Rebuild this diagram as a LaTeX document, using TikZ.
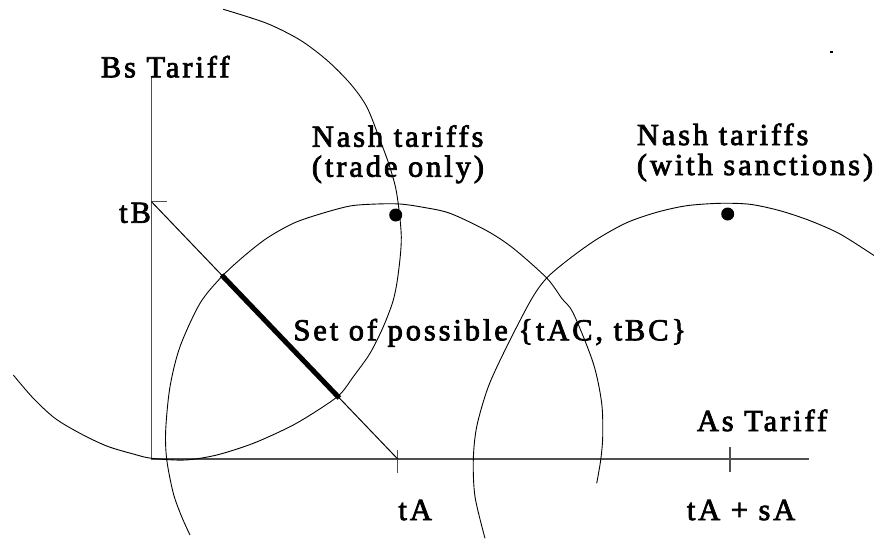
\documentclass[tikz,border=0pt]{standalone}
\usepackage{fontspec}
\setmainfont{Liberation Serif}[LetterSpace=9.5,FakeBold=2.5]
\usetikzlibrary{calc}
\definecolor{axisgray}{RGB}{80,80,80}
\begin{document}
\begin{tikzpicture}[x=1pt,y=-1pt,
  lbl/.style={font=\fontsize{30.5}{30}\selectfont, inner sep=0pt, anchor=base west},
  axisline/.style={draw=axisgray, line width=1.3pt},
  curveline/.style={draw=black, line width=0.9pt, line join=round},
  diag/.style={draw=black, line width=1pt},
  thickseg/.style={draw=black, line width=5pt},
  dotmark/.style={circle, fill=black, inner sep=0pt, minimum size=13pt}]
\useasboundingbox (0,0) rectangle (874,550);

% axis coordinates
\coordinate (O) at (151.5,459);
\coordinate (ytop) at (151.5,76.7);
\coordinate (xend) at (809,459);
\coordinate (tBpt) at (151.5,201.7);
\coordinate (tBtick) at (167,201.7);
\coordinate (tApt) at (397.7,459);
\coordinate (tAtop) at (397.7,450);
\coordinate (tAbot) at (397.7,473);
\coordinate (tsAtop) at (730,447);
\coordinate (tsAbot) at (730,472);

% axes and ticks
\draw[axisline] (ytop) -- (O) -- (xend);
\draw[axisline] (tBpt) -- (tBtick);
\draw[axisline] (tAtop) -- (tAbot);
\draw[axisline] (tsAtop) -- (tsAbot);

% curves
\draw[curveline] plot[smooth] coordinates {(223.3,9.3) (266.7,23.3) (300,40) (326.7,60) (350,83.3) (366.7,106.7) (380,140) (389.5,166) (396.7,193.3) (401.3,236.7) (398.3,273.3) (393.3,300) (383.3,326.7) (370,353.3) (353.3,376.7) (339.3,395) (315,412) (290,426.7) (253.3,443.3) (216.7,455) (185,460) (151.7,458.3) (133.3,454) (106.7,446) (80,433.3) (55,418.3) (33.3,398.3) (13.3,375)};
\draw[curveline] plot[smooth] coordinates {(190,535) (181.7,516.7) (173.3,493.3) (166.7,459.3) (165.7,430) (170,386.7) (180,346.7) (200,303.3) (221.7,276.7) (243.3,256.7) (266.7,238.3) (293.3,223.3) (320,214) (350,206) (376.7,204) (400,204) (423.3,207.3) (450,213.3) (486.7,230.7) (513.3,248.3) (546.7,278) (561.7,298.3) (573.3,313.3) (593.3,363.3) (601.7,403.3) (602.7,436.7) (600.7,460) (596.7,483.3)};
\draw[curveline] plot[smooth] coordinates {(485,538.3) (475,496.7) (473.3,460) (476.7,426.7) (488.3,386.7) (506.7,346.7) (531,300) (546.7,278) (570,258.3) (596.7,239.3) (626.7,222.7) (656.7,212.3) (686.7,205.7) (720,203.3) (750,204.3) (780,210.7) (810,220.7) (840,234) (874,255.5)};

% diagonal and set of possible tariffs
\draw[diag] (tBpt) -- (tApt);
\draw[thickseg] ($(tBpt)!0.285!(tApt)$) -- ($(tBpt)!0.763!(tApt)$);

% Nash points
\node[dotmark] (nash1) at (395.7,215) {};
\node[dotmark] (nash2) at (727.7,214) {};
\fill (830,51) rectangle (832.5,52.6);

% labels
\node[lbl] (bs) at (100.7,77.3) {Bs Tariff};
\node[lbl] (tb) at (119,222.7) {tB};
\node[lbl] (ta) at (398.3,520) {tA};
\node[lbl] (tasa) at (686.7,520) {tA + sA};
\node[lbl] (as) at (696.7,431) {As Tariff};
\node[lbl] (n1a) at (311.7,146.7) {Nash tariffs};
\node[lbl] (n1b) at (311.7,176.7) {(trade only)};
\node[lbl] (n2a) at (636.7,145) {Nash tariffs};
\node[lbl] (n2b) at (636.7,175) {(with sanctions)};
\node[lbl] (set) at (293.3,340.3) {Set of possible \{tAC, tBC\}};
\end{tikzpicture}
\end{document}
